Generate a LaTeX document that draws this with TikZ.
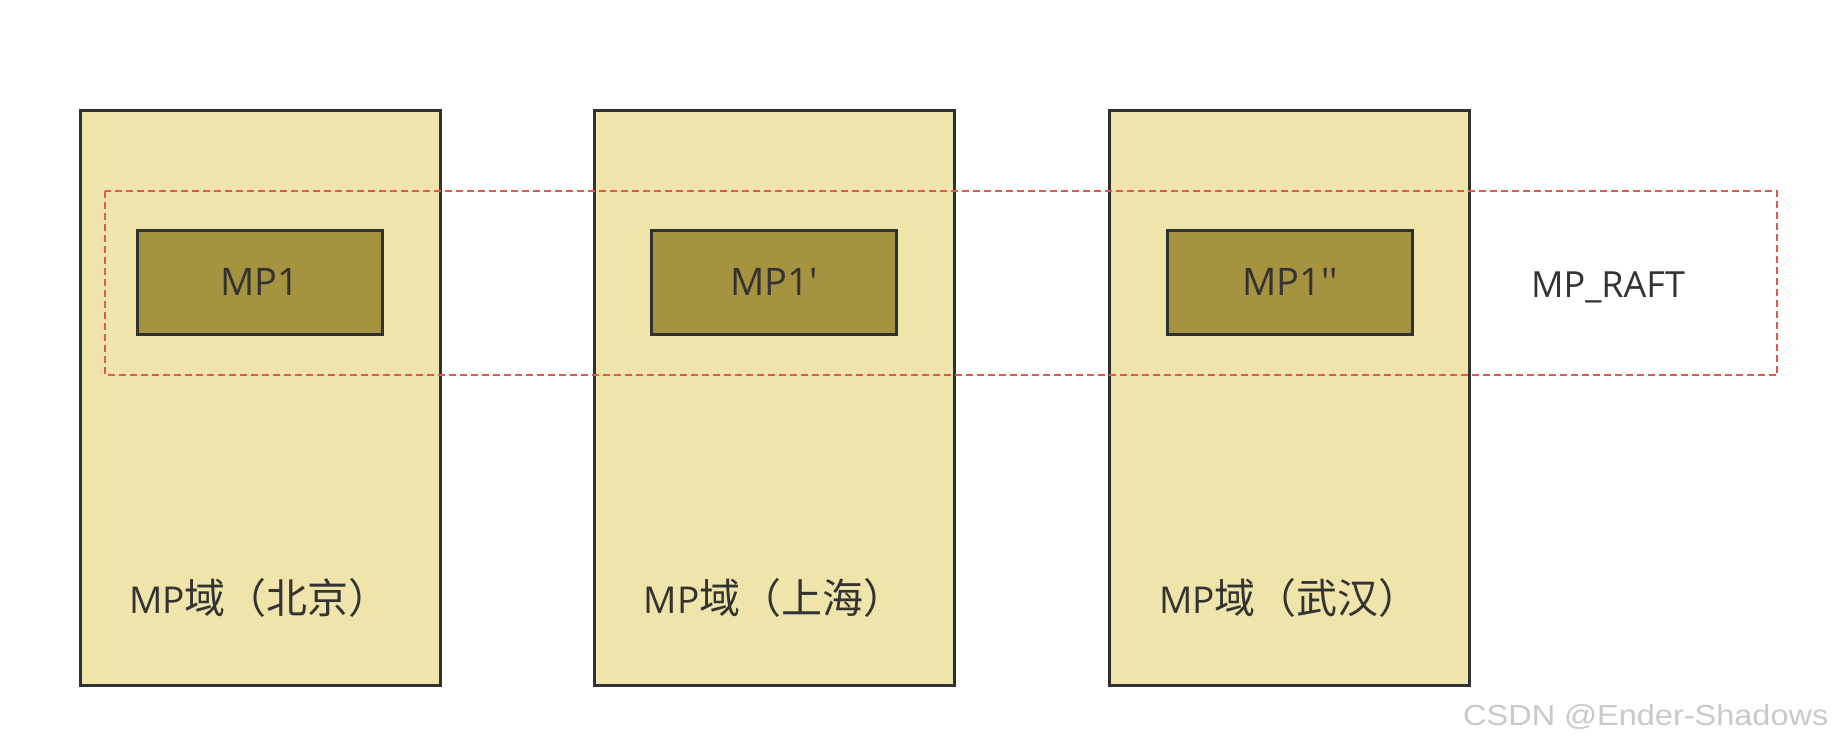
\documentclass[tikz,border=0pt]{standalone}
\usepackage{fontspec}
\setmainfont{Open Sans}[Ligatures=TeXOff]
\newfontfamily\cjk{Noto Sans CJK SC}
\newfontfamily\wmfont{Liberation Sans}
\definecolor{domfill}{HTML}{EFE4AA}
\definecolor{mpfill}{HTML}{A5933F}
\definecolor{edge}{HTML}{2E3235}
\definecolor{raft}{HTML}{DD5A50}
\definecolor{txt}{HTML}{333333}
\definecolor{wm}{HTML}{C9C9C9}
\tikzset{
  dombox/.style={draw=edge, line width=3pt, fill=domfill, minimum width=360pt, minimum height=575pt, inner sep=0pt},
  mpbox/.style={draw=edge, line width=3pt, fill=mpfill, minimum width=245pt, minimum height=104pt, inner sep=0pt, text=txt, font=\fontsize{38}{46}\selectfont},
  domlabel/.style={anchor=base west, inner sep=0pt, text=txt, font=\fontsize{37}{46}\selectfont},
  raftbox/.style={draw=raft, line width=2pt, dash pattern=on 7pt off 4pt},
}
\begin{document}
\begin{tikzpicture}[x=1pt,y=-1pt]
\useasboundingbox[fill=white] (0,0) rectangle (1838,750);
% domains
\node[dombox] (d1) at (260,397.5) {};
\node[dombox] (d2) at (774.5,397.5) {};
\node[dombox] (d3) at (1289,397.5) {};
% raft group
\draw[raftbox] (104.5,191) rectangle (1777,375);
% members
\node[mpbox] (m1) at (259.5,282) {MP1};
\node[mpbox] (m2) at (774.3,282) {MP1'};
\node[mpbox] (m3) at (1290,282) {MP1''};
\node[anchor=base, inner sep=0pt, text=txt, font=\fontsize{36}{46}\selectfont] (rl) at (1608,297) {MP\_RAFT};
% labels
\node[domlabel] (l1) at (129,613) {MP{\cjk\fontsize{41}{46}\selectfont 域（北京）}};
\node[domlabel] (l2) at (643.5,613) {MP{\cjk\fontsize{41}{46}\selectfont 域（上海）}};
\node[domlabel] (l3) at (1159,613) {MP{\cjk\fontsize{41}{46}\selectfont 域（武汉）}};
% watermark
\node[anchor=base west, inner sep=0pt, text=wm, font=\wmfont\fontsize{29}{34}\selectfont] (wmk) at (1463,725) {\scalebox{1.12}[1]{CSDN @Ender-Shadows}};
\end{tikzpicture}
\end{document}
